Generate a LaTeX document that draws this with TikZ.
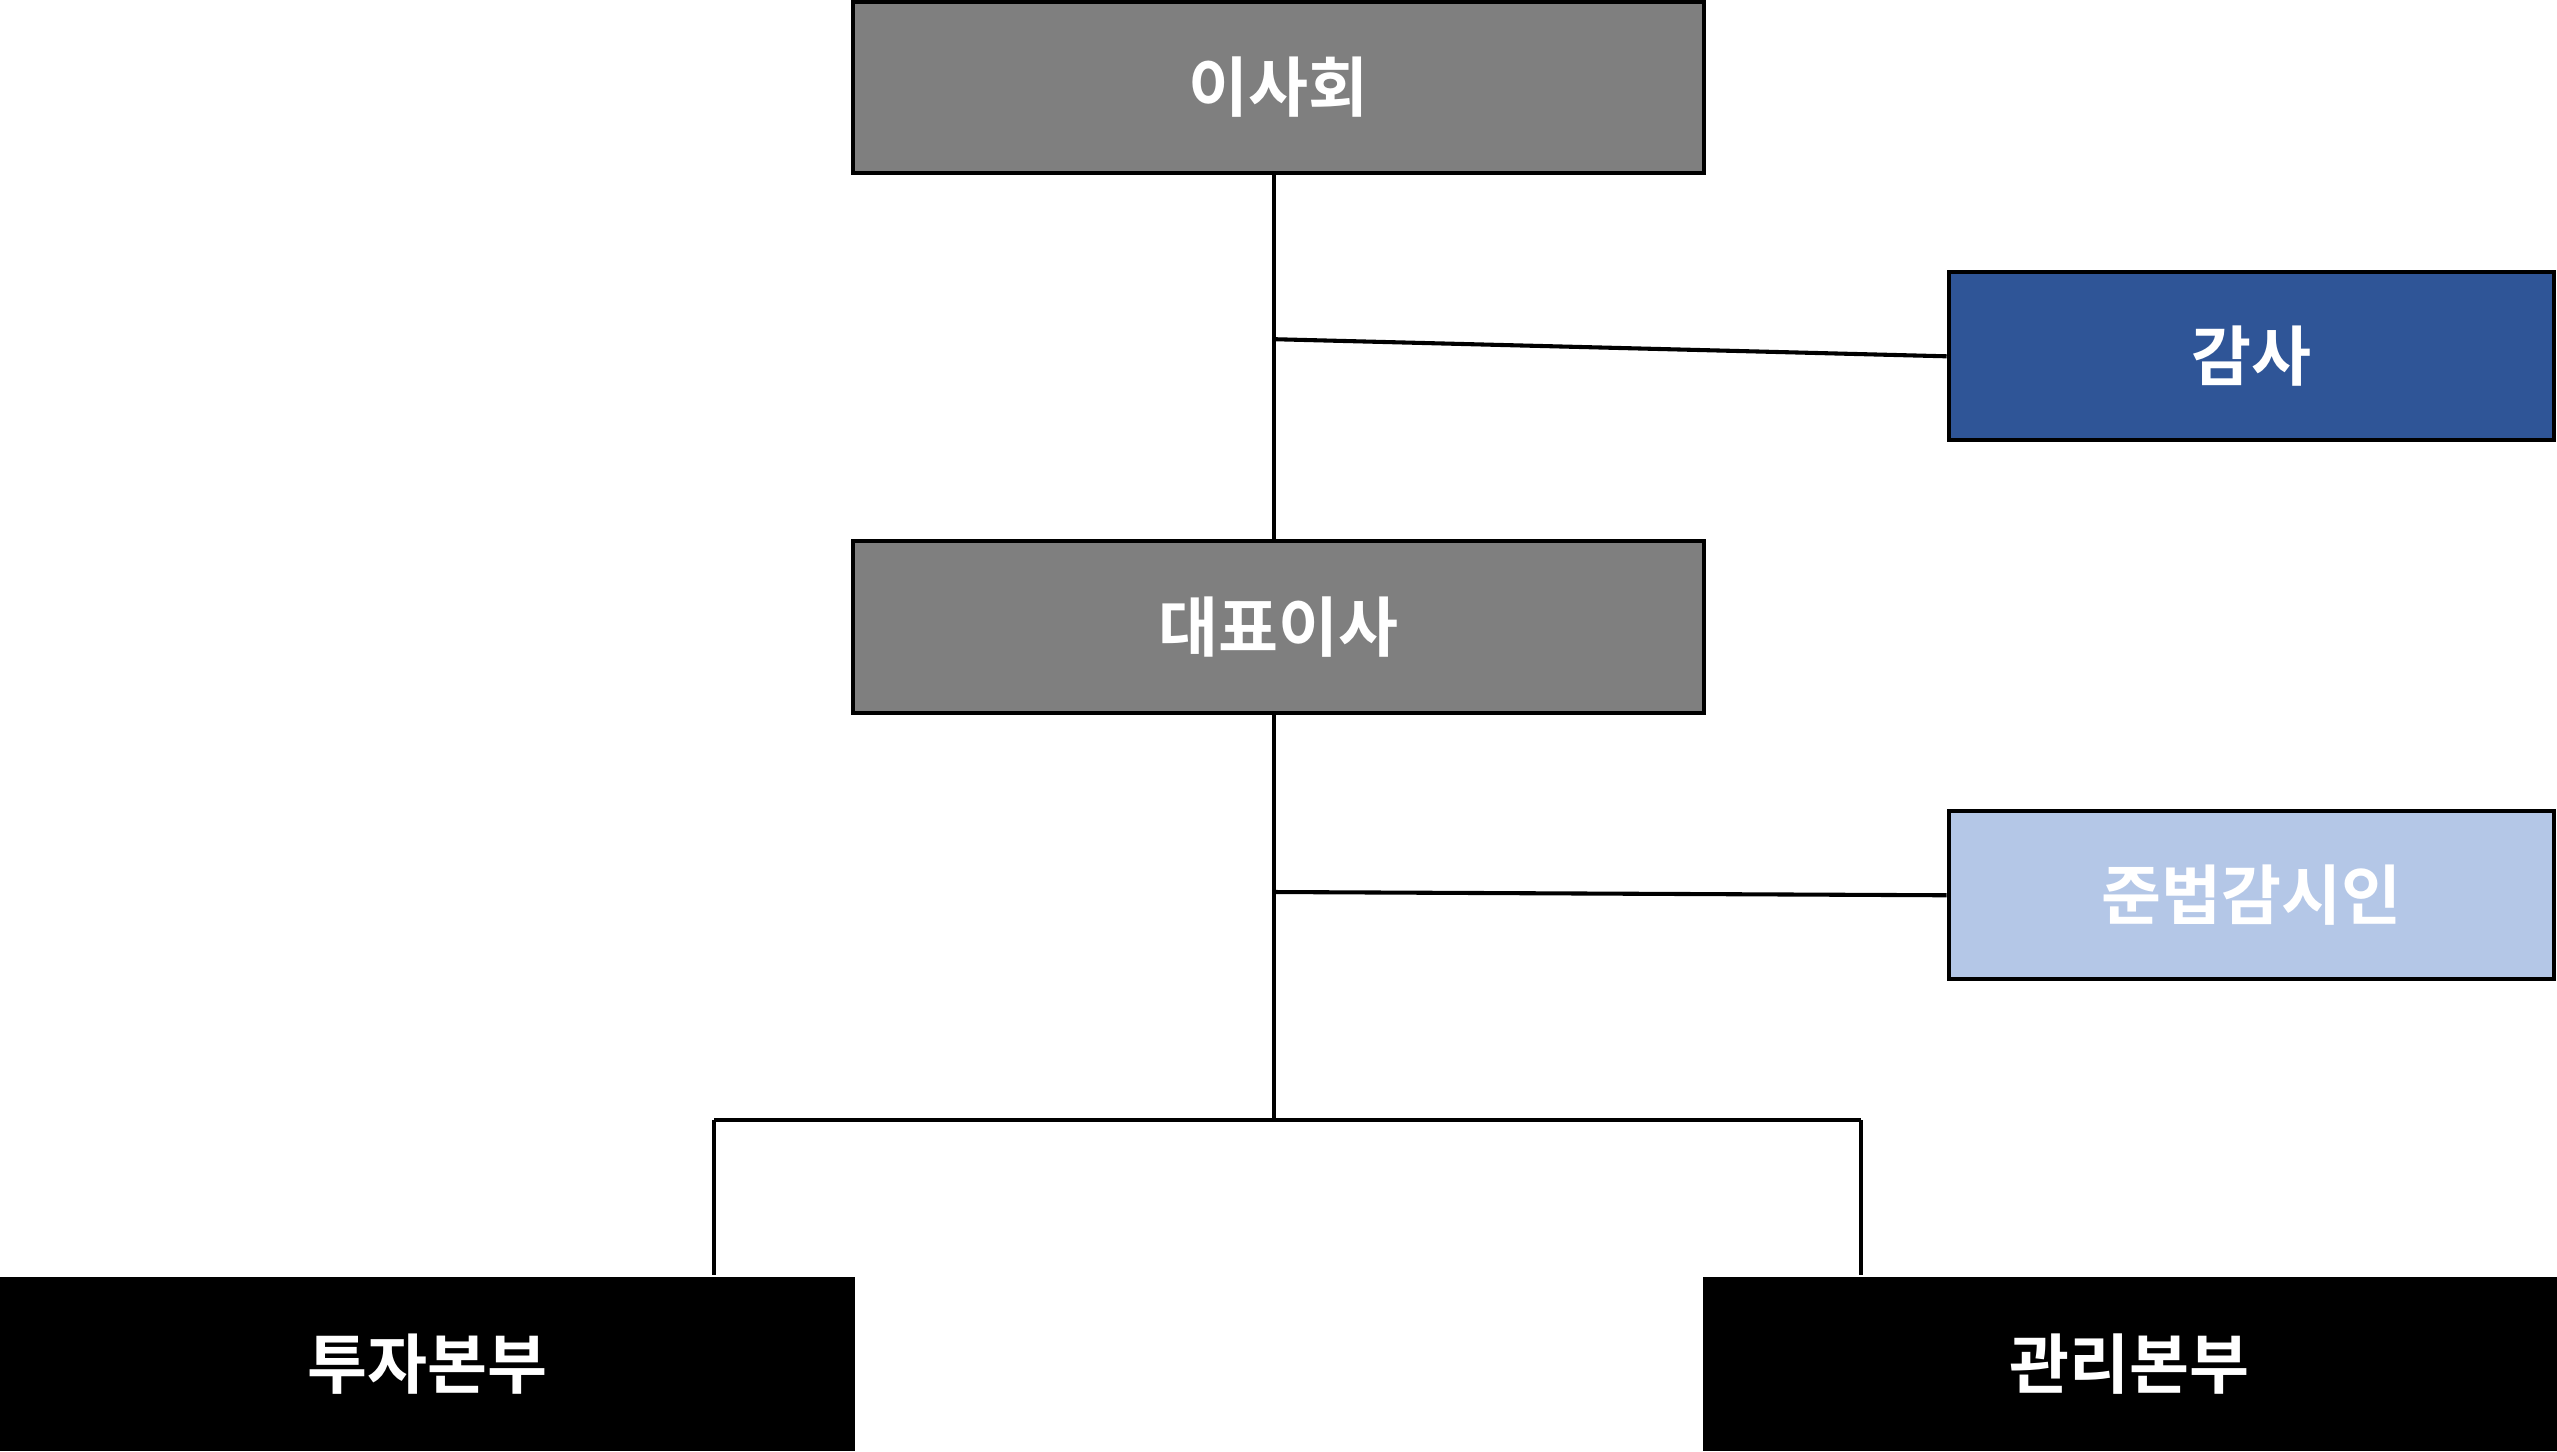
\documentclass[tikz,border=0pt]{standalone}
\usepackage{fontspec}
\setmainfont{Noto Sans CJK KR}[BoldFont={Noto Sans CJK KR Bold}]
\usetikzlibrary{positioning}
\definecolor{boardgray}{HTML}{7F7F7F}
\definecolor{auditblue}{HTML}{2F5597}
\definecolor{compblue}{HTML}{B4C7E7}
\begin{document}
\begin{tikzpicture}[x=1pt,y=-1pt,
    orgbox/.style={draw=black, line width=2.5pt, minimum width=522pt, minimum height=105pt,
      inner sep=0pt, text=white, font=\fontsize{40}{48}\selectfont\bfseries},
    sidebox/.style={orgbox, minimum width=371pt, minimum height=103pt},
    divbox/.style={orgbox, draw=none, fill=black, minimum width=524pt, minimum height=107pt},
    link/.style={line width=2.5pt}]
\useasboundingbox (0,0) rectangle (1568,890);
% boxes
\node[orgbox, fill=boardgray] (board) at (784,53.5) {이사회};
\node[sidebox, fill=auditblue] (audit) at (1380.5,218.5) {감사};
\node[orgbox, fill=boardgray] (ceo) at (784,384.5) {대표이사};
\node[sidebox, fill=compblue] (comp) at (1380.5,549) {준법감시인};
\node[divbox] (invest) at (262,836.5) {투자본부};
\node[divbox] (admin) at (1306,836.5) {관리본부};
% connectors
\coordinate (j1) at (781,208);
\coordinate (j2) at (781,547);
\coordinate (j3) at (781,687);
\coordinate (jl) at (438,687);
\coordinate (jr) at (1141,687);
\draw[link] (781,0 |- board.south) -- (781,0 |- ceo.north);
\draw[link] (781,0 |- ceo.south) -- (j3);
\draw[link] (j1) -- (audit.west);
\draw[link] (j2) -- (comp.west);
\draw[link] (jl) -- (jr);
\draw[link] (jl) -- (jl |- invest.north);
\draw[link] (jr) -- (jr |- admin.north);
\end{tikzpicture}
\end{document}
